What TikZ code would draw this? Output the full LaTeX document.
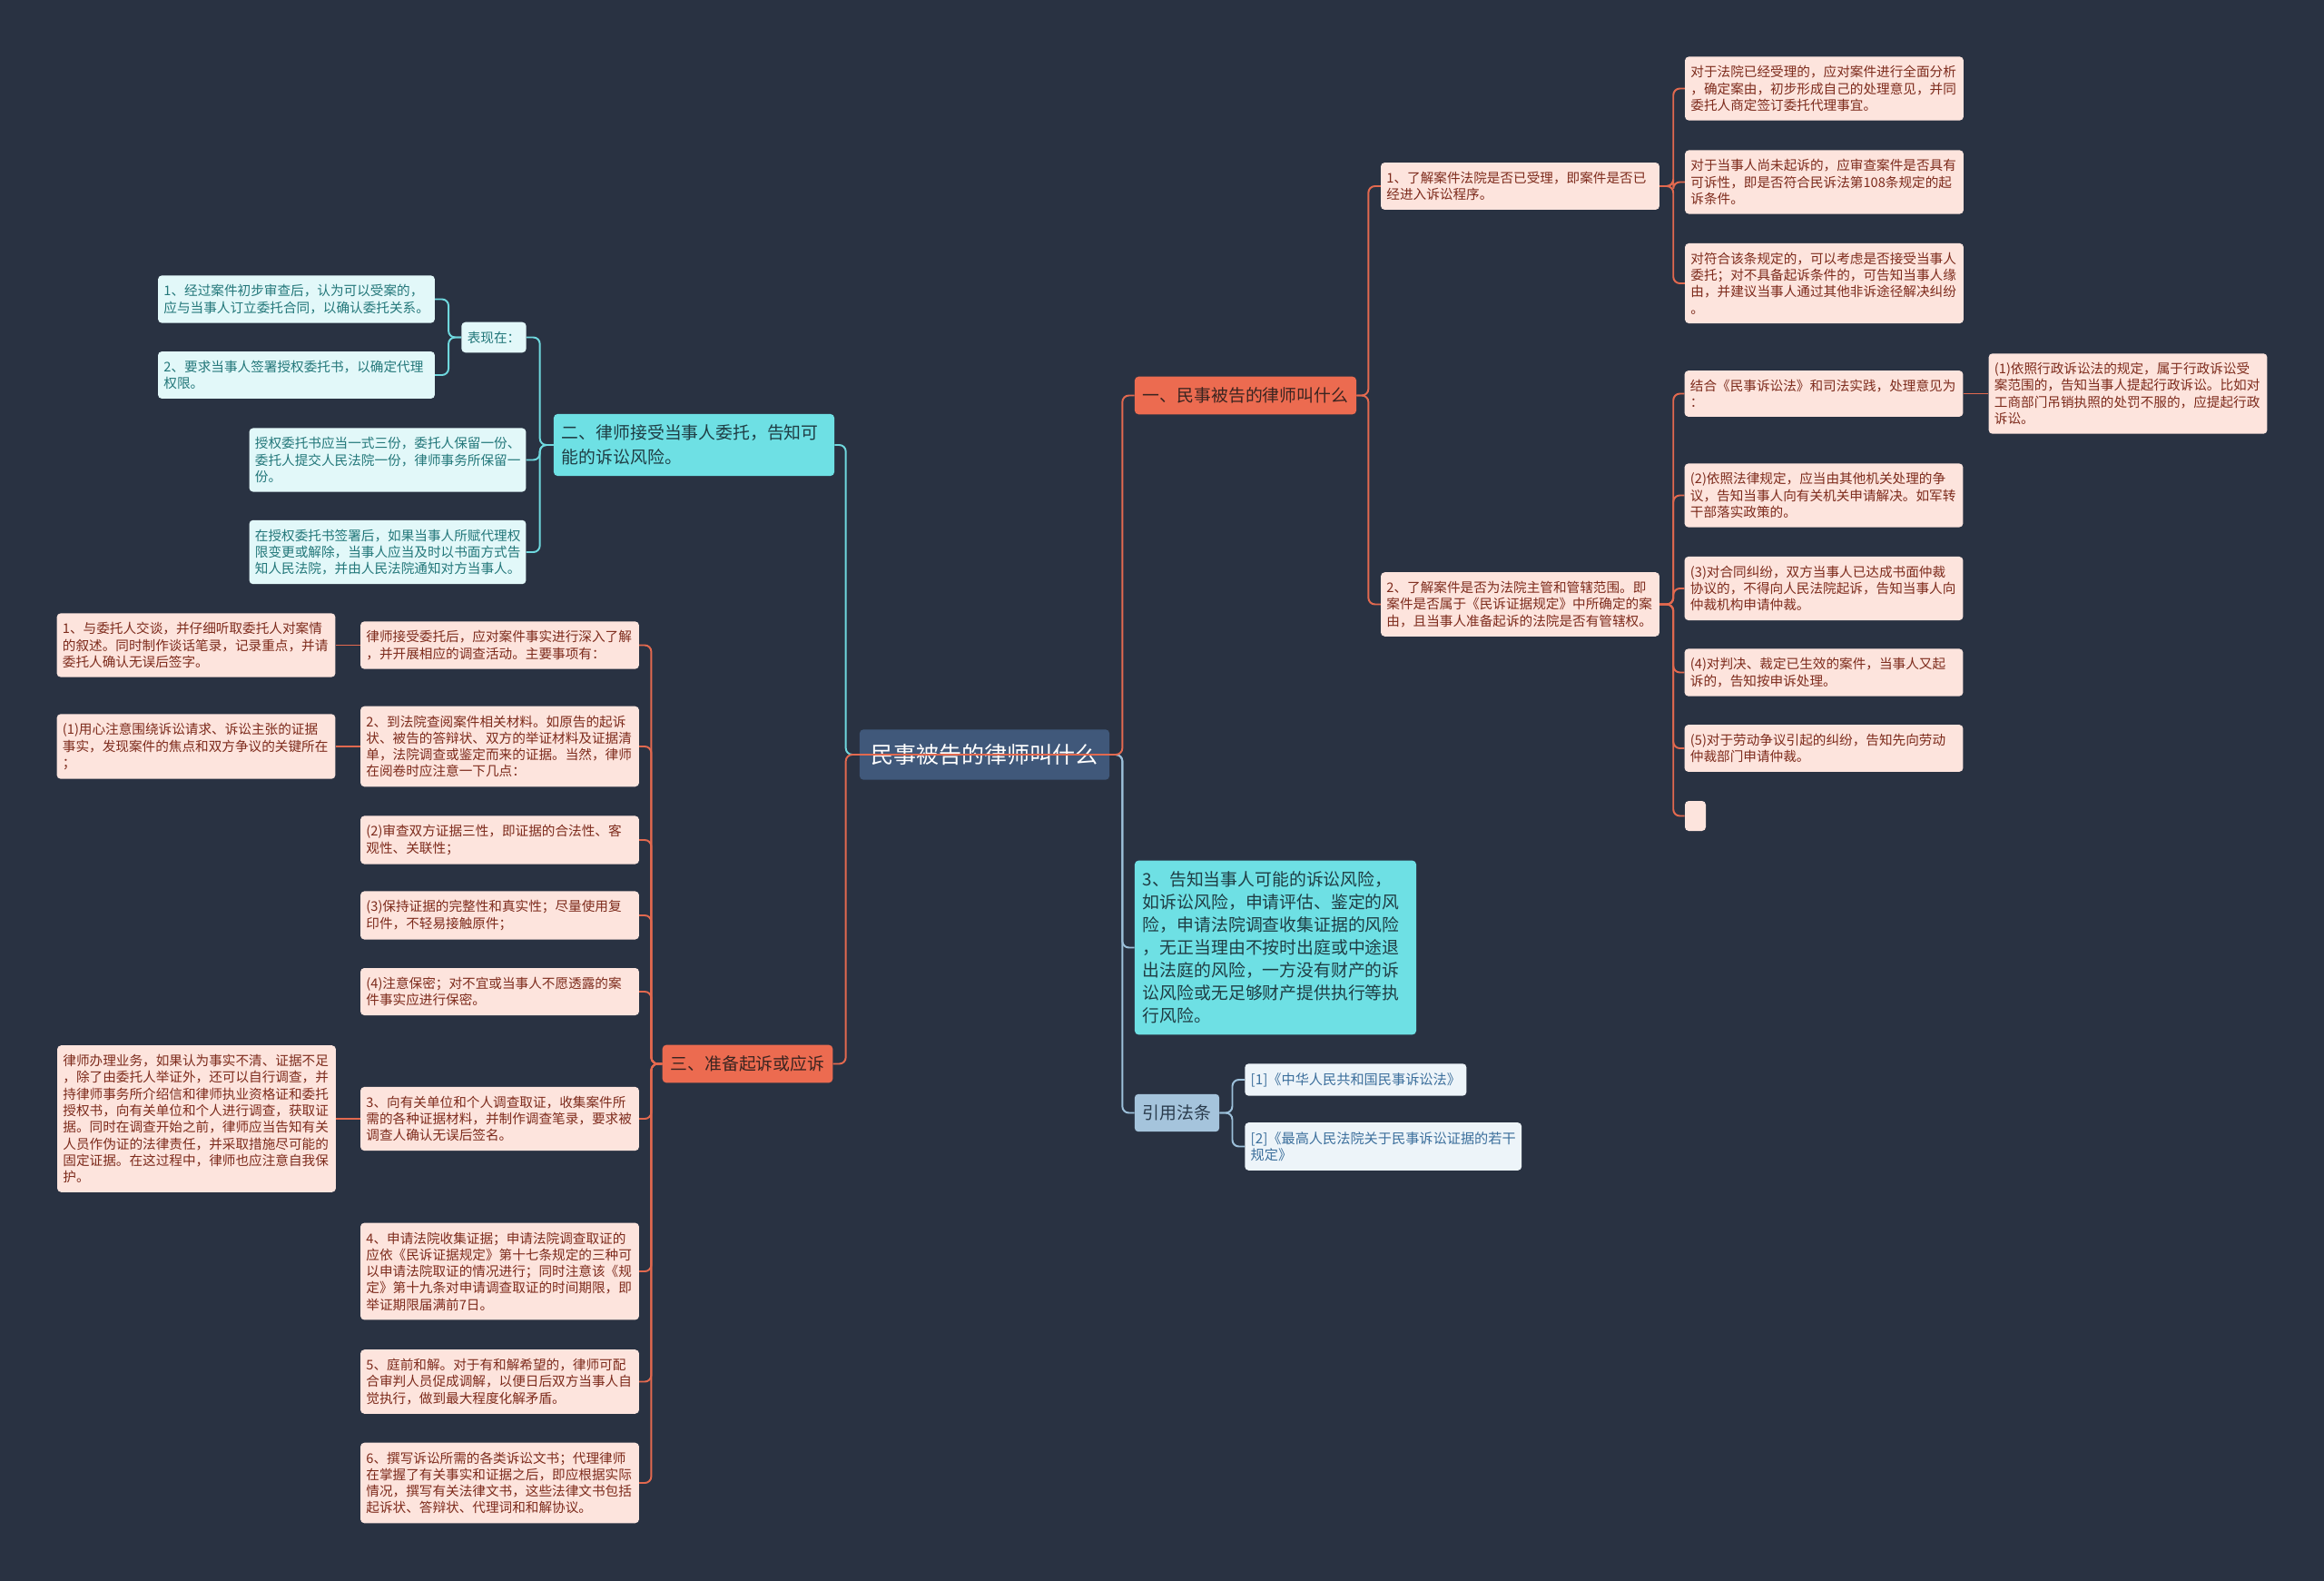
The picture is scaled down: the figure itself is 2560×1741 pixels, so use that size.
\documentclass[tikz,border=0pt]{standalone}
\usepackage{fontspec}
\newfontfamily\cjk{Noto Sans CJK SC}
\usepackage{tikz}
\usetikzlibrary{positioning,backgrounds}

\definecolor{cBg}{HTML}{293242}
\definecolor{cRoot}{HTML}{40587A}
\definecolor{cOrange}{HTML}{EC6B50}
\definecolor{cOrangeText}{HTML}{3A2420}
\definecolor{cCyan}{HTML}{6EE0E4}
\definecolor{cCyanText}{HTML}{1F3D44}
\definecolor{cSteel}{HTML}{A5C4DC}
\definecolor{cSteelText}{HTML}{2A3B4C}
\definecolor{cPeach}{HTML}{FDE4DD}
\definecolor{cPeachText}{HTML}{7D2B1C}
\definecolor{cMint}{HTML}{E2F8F9}
\definecolor{cMintText}{HTML}{23777A}
\definecolor{cRef}{HTML}{EDF4F9}
\definecolor{cRefText}{HTML}{3C6F9C}
\definecolor{cLineOrange}{HTML}{E2694F}
\definecolor{cLineCyan}{HTML}{6FD8DE}
\definecolor{cLineSteel}{HTML}{9CC0DA}

\tikzset{
  rootnode/.style={fill=cRoot, text=white, rounded corners=3pt,
    inner xsep=0.31cm, inner ysep=0.4cm, font=\cjk\fontsize{17.8pt}{22pt}\selectfont},
  topic/.style={rounded corners=3pt, inner xsep=0.225cm, inner ysep=0.3cm,
    align=left, font=\cjk\fontsize{13.4pt}{19pt}\selectfont},
  topicorange/.style={topic, fill=cOrange, text=cOrangeText},
  topiccyan/.style={topic, fill=cCyan, text=cCyanText},
  topicsteel/.style={topic, fill=cSteel, text=cSteelText},
  leaf/.style={rounded corners=3pt, inner xsep=0.16cm, inner ysep=0.25cm,
    align=left, font=\cjk\fontsize{10.4pt}{13pt}\selectfont},
  leaforange/.style={leaf, fill=cPeach, text=cPeachText, text width=7.35cm},
  leafcyan/.style={leaf, fill=cMint, text=cMintText, text width=7.3cm},
  leafref/.style={leaf, fill=cRef, text=cRefText, font=\cjk\fontsize{10.8pt}{13.2pt}\selectfont},
  leafblank/.style={fill=cPeach, rounded corners=3pt, inner sep=0pt,
    minimum width=0.575cm, minimum height=0.825cm},
  linkorange/.style={draw=cLineOrange, line width=1.4pt, rounded corners=0.18cm},
  linkcyan/.style={draw=cLineCyan, line width=1.4pt, rounded corners=0.18cm},
  linksteel/.style={draw=cLineSteel, line width=1.4pt, rounded corners=0.18cm},
}

\begin{document}
\begin{tikzpicture}[x=0.025cm,y=-0.025cm]
  \useasboundingbox (0,0) rectangle (2560,1741);

  % centre
  \node (root) [rootnode] at (1084.5,831) {民事被告的律师叫什么};

  % main topics
  \node (b1) [topicorange] at (1372,435.5) {一、民事被告的律师叫什么};
  \node (b2) [topiccyan, text width=7.275cm] at (764.5,490)
    {二、律师接受当事人委托，告知可\\能的诉讼风险。};
  \node (b3) [topicorange] at (823.5,1171.5) {三、准备起诉或应诉};
  \node (b4) [topiccyan, text width=7.3cm, font=\cjk\fontsize{13.4pt}{17.8pt}\selectfont] at (1405,1043.5)
    {3、告知当事人可能的诉讼风险，\\如诉讼风险，申请评估、鉴定的风\\险，申请法院调查收集证据的风险\\，无正当理由不按时出庭或中途退\\出法庭的风险，一方没有财产的诉\\讼风险或无足够财产提供执行等执\\行风险。};
  \node (b5) [topicsteel] at (1296.5,1225.5) {引用法条};

  % cited laws
  \node (r1) [leafref, anchor=west] at (1371,1189) {[1]《中华人民共和国民事诉讼法》};
  \node (r2) [leafref, anchor=west] at (1371,1262.5) {[2]《最高人民法院关于民事诉讼证据的若干\\规定》};

  % branch one
  \node (c1) [leaforange] at (1674.5,205)
    {1、了解案件法院是否已受理，即案件是否已\\经进入诉讼程序。};
  \node (c2) [leaforange] at (1674.5,665.5)
    {2、了解案件是否为法院主管和管辖范围。即\\案件是否属于《民诉证据规定》中所确定的案\\由，且当事人准备起诉的法院是否有管辖权。};

  \node (A1) [leaforange] at (2009.5,97.5)
    {对于法院已经受理的，应对案件进行全面分析\\，确定案由，初步形成自己的处理意见，并同\\委托人商定签订委托代理事宜。};
  \node (A2) [leaforange] at (2009.5,200.5)
    {对于当事人尚未起诉的，应审查案件是否具有\\可诉性，即是否符合民诉法第108条规定的起\\诉条件。};
  \node (A3) [leaforange] at (2009.5,312)
    {对符合该条规定的，可以考虑是否接受当事人\\委托；对不具备起诉条件的，可告知当事人缘\\由，并建议当事人通过其他非诉途径解决纠纷\\。};

  \node (B0) [leaforange] at (2009,433.5)
    {结合《民事诉讼法》和司法实践，处理意见为\\：};
  \node (B1) [leaforange] at (2344,433.5)
    {(1)依照行政诉讼法的规定，属于行政诉讼受\\案范围的，告知当事人提起行政诉讼。比如对\\工商部门吊销执照的处罚不服的，应提起行政\\诉讼。};
  \node (B2) [leaforange] at (2009,545.5)
    {(2)依照法律规定，应当由其他机关处理的争\\议，告知当事人向有关机关申请解决。如军转\\干部落实政策的。};
  \node (B3) [leaforange] at (2009,648)
    {(3)对合同纠纷，双方当事人已达成书面仲裁\\协议的，不得向人民法院起诉，告知当事人向\\仲裁机构申请仲裁。};
  \node (B4) [leaforange] at (2009,740.5)
    {(4)对判决、裁定已生效的案件，当事人又起\\诉的，告知按申诉处理。};
  \node (B5) [leaforange] at (2009,824)
    {(5)对于劳动争议引起的纠纷，告知先向劳动\\仲裁部门申请仲裁。};
  \node (B6) [leafblank] at (1867.5,898.5) {};

  % branch two
  \node (D0) [leaf, fill=cMint, text=cMintText] at (544,371.5) {表现在：};
  \node (D1) [leafcyan] at (326.5,329.5)
    {1、经过案件初步审查后，认为可以受案的，\\应与当事人订立委托合同，以确认委托关系。};
  \node (D2) [leafcyan] at (326.5,413)
    {2、要求当事人签署授权委托书，以确定代理\\权限。};
  \node (D3) [leafcyan] at (427,506.5)
    {授权委托书应当一式三份，委托人保留一份、\\委托人提交人民法院一份，律师事务所保留一\\份。};
  \node (D4) [leafcyan] at (427,608)
    {在授权委托书签署后，如果当事人所赋代理权\\限变更或解除，当事人应当及时以书面方式告\\知人民法院，并由人民法院通知对方当事人。};

  % branch three
  \node (E0) [leaforange] at (550.5,710.5)
    {律师接受委托后，应对案件事实进行深入了解\\，并开展相应的调查活动。主要事项有：};
  \node (E0a) [leaforange] at (216,710.5)
    {1、与委托人交谈，并仔细听取委托人对案情\\的叙述。同时制作谈话笔录，记录重点，并请\\委托人确认无误后签字。};
  \node (E1) [leaforange] at (550.5,822)
    {2、到法院查阅案件相关材料。如原告的起诉\\状、被告的答辩状、双方的举证材料及证据清\\单，法院调查或鉴定而来的证据。当然，律师\\在阅卷时应注意一下几点：};
  \node (E1a) [leaforange] at (216,822)
    {(1)用心注意围绕诉讼请求、诉讼主张的证据\\事实，发现案件的焦点和双方争议的关键所在\\；};
  \node (E2) [leaforange] at (550.5,925)
    {(2)审查双方证据三性，即证据的合法性、客\\观性、关联性；};
  \node (E3) [leaforange] at (550.5,1008)
    {(3)保持证据的完整性和真实性；尽量使用复\\印件，不轻易接触原件；};
  \node (E4) [leaforange] at (550.5,1092)
    {(4)注意保密；对不宜或当事人不愿透露的案\\件事实应进行保密。};
  \node (E5) [leaforange] at (550.5,1232)
    {3、向有关单位和个人调查取证，收集案件所\\需的各种证据材料，并制作调查笔录，要求被\\调查人确认无误后签名。};
  \node (E5a) [leaforange] at (216.5,1232)
    {律师办理业务，如果认为事实不清、证据不足\\，除了由委托人举证外，还可以自行调查，并\\持律师事务所介绍信和律师执业资格证和委托\\授权书，向有关单位和个人进行调查，获取证\\据。同时在调查开始之前，律师应当告知有关\\人员作伪证的法律责任，并采取措施尽可能的\\固定证据。在这过程中，律师也应注意自我保\\护。};
  \node (E6) [leaforange] at (550.5,1400)
    {4、申请法院收集证据；申请法院调查取证的\\应依《民诉证据规定》第十七条规定的三种可\\以申请法院取证的情况进行；同时注意该《规\\定》第十九条对申请调查取证的时间期限，即\\举证期限届满前7日。};
  \node (E7) [leaforange] at (550.5,1521.5)
    {5、庭前和解。对于有和解希望的，律师可配\\合审判人员促成调解，以便日后双方当事人自\\觉执行，做到最大程度化解矛盾。};
  \node (E8) [leaforange] at (550.5,1633)
    {6、撰写诉讼所需的各类诉讼文书；代理律师\\在掌握了有关事实和证据之后，即应根据实际\\情况，撰写有关法律文书，这些法律文书包括\\起诉状、答辩状、代理词和和解协议。};

  \begin{scope}[on background layer]
    \fill[cBg] (0,0) rectangle (2560,1741);
    % from the centre
    \draw[linkcyan] (root.west) -- ++(-15,0) |- (b2.east);
    \draw[linksteel] (root.east) -- ++(14,0) |- (b4.west);
    \draw[linksteel] (root.east) -- ++(14,0) |- (b5.west);
    \foreach \r in {r1,r2}
      \draw[linksteel] (b5.east) -- ++(14,0) |- (\r.west);
    % branch one
    \foreach \c in {c1,c2}
      \draw[linkorange] (b1.east) -- ++(13,0) |- (\c.west);
    \foreach \c in {A1,A2,A3}
      \draw[linkorange] (c1.east) -- ++(15,0) |- (\c.west);
    \foreach \c in {B0,B2,B3,B4,B5,B6}
      \draw[linkorange] (c2.east) -- ++(15,0) |- (\c.west);
    \draw[linkorange] (B0.east) -- (B1.west);
    % branch two
    \foreach \c in {D0,D3,D4}
      \draw[linkcyan] (b2.west) -- ++(-15,0) |- (\c.east);
    \foreach \c in {D1,D2}
      \draw[linkcyan] (D0.west) -- ++(-14,0) |- (\c.east);
    % branch three
    \foreach \c in {E0,E1,E2,E3,E4,E5,E6,E7,E8}
      \draw[linkorange] (b3.west) -- ++(-12,0) |- (\c.east);
    \draw[linkorange] (E0.west) -- (E0a.east);
    \draw[linkorange] (E1.west) -- (E1a.east);
    \draw[linkorange] (E5.west) -- (E5a.east);
  \end{scope}

  % these two cross the centre node
  \draw[linkorange] (root.west) -- (root.east) -- ++(14,0) |- (b1.west);
  \draw[linkorange] (root.east) -- (root.west) -- ++(-15,0) |- (b3.east);
\end{tikzpicture}
\end{document}
